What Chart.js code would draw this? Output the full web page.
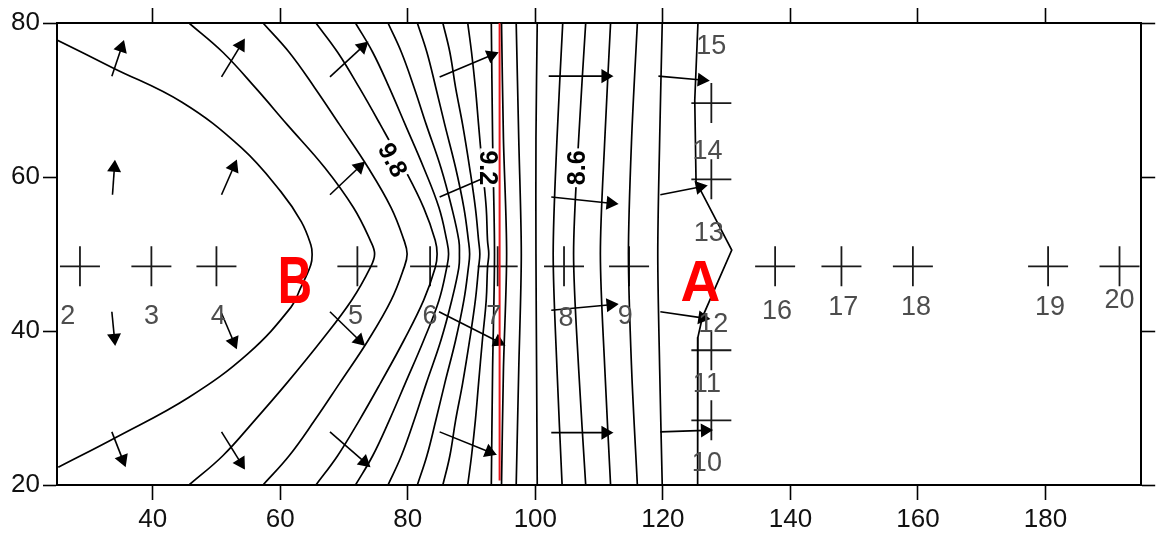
<!DOCTYPE html>
<html>
<head>
<meta charset="utf-8">
<script src="https://cdn.jsdelivr.net/npm/chart.js@4.4.1/dist/chart.umd.min.js"></script>
<style>
    html, body { margin: 0; padding: 0; background: #fff; }
    canvas { display: block; }
</style>
</head>
<body>
<canvas id="grafico" width="1163" height="539"></canvas>
<script>
const xTicks = [40, 60, 80, 100, 120, 140, 160, 180];
const yTicks = [20, 40, 60, 80];

// curved contours left of the red line, all read at the same y levels
const curveY = [80, 76.2, 71.6, 66.8, 61.2, 56.0, 51.8, 50, 48.2, 44.0, 38.8, 33.2, 28.4, 23.8, 20];
const curve2 = [45.7, 51.0, 56.1, 61.1, 67.0, 71.5, 74.1, 74.8, 74.1, 71.2, 66.5, 61.0, 56.0, 51.0, 45.7];
const curve3 = [57.3, 61.4, 65.4, 69.3, 73.8, 77.4, 79.4, 79.9, 79.4, 77.4, 73.8, 69.3, 65.4, 61.4, 57.3];
const curve4 = [65.6, 69.0, 72.4, 75.7, 79.4, 82.5, 84.3, 84.6, 84.3, 82.5, 79.4, 75.7, 72.4, 69.0, 65.6];
const curve5 = [71.8, 74.5, 77.1, 79.6, 82.5, 84.9, 86.1, 86.4, 86.1, 84.9, 82.5, 79.6, 77.1, 74.5, 71.8];
const curve6 = [76.9, 79.0, 81.0, 82.9, 85.2, 86.9, 88.0, 88.1, 88.0, 86.9, 85.2, 82.9, 81.0, 79.0, 76.9];
const curve7 = [81.5, 83.0, 84.4, 85.8, 87.5, 88.8, 89.5, 89.7, 89.5, 88.8, 87.5, 85.8, 84.4, 83.0, 81.5];
const curve8 = [85.5, 86.6, 87.5, 88.6, 89.7, 90.6, 91.1, 91.3, 91.1, 90.6, 89.7, 88.6, 87.5, 86.6, 85.5];
const curve9 = [89.4, 90.0, 90.6, 91.1, 91.7, 92.3, 92.5, 92.7, 92.5, 92.3, 91.7, 91.1, 90.6, 90.0, 89.4];

// outer contour, starts and ends on the left edge
const outerX = [25, 33.7, 44.6, 53.9, 60.1, 63.3, 64.8, 65, 64.8, 63.2, 61.7, 55, 45.7, 34.3, 25.2];
const outerY = [77.8, 74.2, 69.7, 63.8, 58.1, 54.2, 51.2, 50, 48.6, 45.6, 43.1, 37.1, 31.4, 26.2, 22.3];

// almost straight contours, read at 5 levels
const straightY = [80, 65, 50, 35, 20];
const straight10 = [93.1, 93.3, 93.6, 93.3, 93.1];
const straight11 = [94.7, 95.0, 95.5, 95.0, 94.7];
const straight12 = [97.0, 97.4, 97.8, 97.4, 97.0];
const straight13 = [100.3, 100.1, 100.1, 100.2, 100.3];
const straight14 = [104.3, 103.4, 102.8, 103.4, 104.2];
const straight15 = [107.9, 106.8, 106.0, 106.8, 107.9];
const straight16 = [111.8, 110.9, 110.2, 110.9, 111.8];
const straight17 = [116.0, 115.1, 114.6, 115.1, 116.0];
const straight18 = [119.9, 119.5, 119.2, 119.5, 119.9];

// last contour with the kink near A
const kinkX = [125.5, 125.0, 125.2, 130.8, 126.2, 125.5, 125.4, 125.5];
const kinkY = [80, 70, 59.4, 50.5, 41.8, 39.2, 30, 20];

const redLineX = 94.4;
const redLineY = [80, 20.6];

// flow arrows
const arrowTailX = [33.6, 50.8, 67.8, 85.0, 102.1, 119.3, 33.7, 50.8, 67.8, 85.0, 102.5, 119.6,
                    33.6, 50.8, 67.8, 84.9, 102.5, 119.6, 33.6, 50.8, 67.8, 85.0, 102.5, 119.6];
const arrowTailY = [73.1, 73.0, 73.0, 73.0, 73.1, 73.1, 57.7, 57.7, 57.7, 57.4, 57.4, 57.7,
                    42.5, 42.3, 42.5, 42.5, 42.7, 42.5, 26.9, 26.9, 26.9, 26.9, 26.8, 26.9];
const arrowHeadX = [35.1, 53.8, 72.9, 93.1, 111.0, 126.1, 34.0, 52.7, 72.4, 92.3, 111.8, 125.8,
                    34.0, 52.7, 72.4, 94.2, 111.8, 126.2, 35.3, 53.8, 73.2, 92.8, 111.0, 126.6];
const arrowHeadY = [76.8, 77.1, 76.9, 75.8, 73.1, 72.6, 61.2, 61.3, 61.3, 60.0, 56.6, 58.7,
                    39.1, 38.6, 38.8, 38.6, 43.4, 41.7, 23.3, 22.9, 23.0, 24.3, 26.8, 27.1];

// measuring points
const crossX = [28.6, 39.8, 50.0, 72.1, 83.5, 94.1, 104.5, 114.7, 137.6, 148.0, 159.2, 180.4, 191.6,
                127.6, 127.6, 127.6, 127.6];
const crossY = [48.4, 48.4, 48.4, 48.4, 48.4, 48.4, 48.4, 48.4, 48.4, 48.4, 48.4, 48.4, 48.4,
                69.6, 59.7, 37.5, 28.4];

const pointNames = ['2', '3', '4', '5', '6', '7', '8', '9', '16', '17', '18', '19', '20',
                    '15', '14', '13', '12', '11', '10'];
const pointNameX = [26.7, 39.8, 50.3, 71.8, 83.5, 93.5, 104.8, 114.1, 137.9, 148.3, 159.7, 180.7, 191.6,
                    127.6, 127.0, 127.2, 127.9, 126.9, 126.9];
const pointNameY = [41.9, 41.9, 41.9, 41.9, 41.9, 41.9, 41.6, 41.9, 42.5, 43.1, 43.1, 43.0, 44.0,
                    77.0, 63.3, 52.7, 40.9, 33.0, 22.8];

const contourText = ['9.8', '9.2', '8.6'];
const contourTextX = [77.6, 92.6, 106.6];
const contourTextY = [62.2, 61.2, 61.2];

const zoneText = ['B', 'A'];
const zoneTextX = [62.3, 125.9];
const zoneTextY = [46.3, 46.2];

const fuente = '"Liberation Sans Narrow", "Liberation Sans", sans-serif';

function pares(xs, ys) {
    return xs.map((v, i) => ({ x: v, y: ys[i] }));
}

function contorno(data, tension) {
    return {
        data: data,
        showLine: true,
        borderColor: '#000',
        borderWidth: 1.7,
        pointRadius: 0,
        tension: tension
    };
}

const datasets = [];
datasets.push(contorno(pares(outerX, outerY), 0.4));
[curve2, curve3, curve4, curve5, curve6, curve7, curve8, curve9].forEach(c => {
    datasets.push(contorno(pares(c, curveY), 0.4));
});
[straight10, straight11, straight12, straight13, straight14, straight15, straight16, straight17, straight18].forEach(c => {
    datasets.push(contorno(pares(c, straightY), 0.3));
});
datasets.push(contorno(pares(kinkX, kinkY), 0));

datasets.push({
    data: redLineY.map(v => ({ x: redLineX, y: v })),
    showLine: true,
    borderColor: '#e8141b',
    borderWidth: 2,
    pointRadius: 0
});

// arrow = segment + triangle turned along the segment
arrowTailX.forEach((tx, i) => {
    datasets.push({
        data: [{ x: tx, y: arrowTailY[i] }, { x: arrowHeadX[i], y: arrowHeadY[i] }],
        showLine: true,
        borderColor: '#000',
        backgroundColor: '#000',
        borderWidth: 1.6,
        pointStyle: 'triangle',
        pointRadius: ctx => ctx.dataIndex === 1 ? 6.5 : 0,
        pointRotation: ctx => {
            const sx = ctx.chart.scales.x;
            const sy = ctx.chart.scales.y;
            const dx = sx.getPixelForValue(arrowHeadX[i]) - sx.getPixelForValue(tx);
            const dy = sy.getPixelForValue(arrowHeadY[i]) - sy.getPixelForValue(arrowTailY[i]);
            return Math.atan2(dx, -dy) * 180 / Math.PI;
        }
    });
});

datasets.push({
    data: pares(crossX, crossY),
    showLine: false,
    pointStyle: 'cross',
    pointRadius: 20,
    borderColor: '#1a1a1a',
    borderWidth: 1.8
});

const textos = {
    id: 'textos',
    afterDatasetsDraw(chart) {
        const { ctx } = chart;
        const sx = chart.scales.x;
        const sy = chart.scales.y;
        ctx.save();
        ctx.textAlign = 'center';
        ctx.textBaseline = 'middle';

        const giro = [62, 90, -90];
        contourText.forEach((t, i) => {
            ctx.save();
            ctx.translate(sx.getPixelForValue(contourTextX[i]), sy.getPixelForValue(contourTextY[i]));
            ctx.rotate(giro[i] * Math.PI / 180);
            ctx.font = 'bold 25px ' + fuente;
            const w = ctx.measureText(t).width;
            ctx.fillStyle = '#fff';
            ctx.fillRect(-w / 2 - 2, -8, w + 4, 16);
            ctx.fillStyle = '#000';
            ctx.fillText(t, 0, 1);
            ctx.restore();
        });

        ctx.font = '27px ' + fuente;
        ctx.fillStyle = '#4d4d4d';
        pointNames.forEach((t, i) => {
            ctx.fillText(t, sx.getPixelForValue(pointNameX[i]), sy.getPixelForValue(pointNameY[i]));
        });

        // B is drawn tall and narrow, A wider
        const tam = [66, 58];
        const ancho = [0.72, 0.95];
        ctx.fillStyle = '#ff0000';
        zoneText.forEach((t, i) => {
            ctx.save();
            ctx.translate(sx.getPixelForValue(zoneTextX[i]), sy.getPixelForValue(zoneTextY[i]) + 2);
            ctx.scale(ancho[i], 1);
            ctx.font = 'bold ' + tam[i] + 'px ' + fuente;
            ctx.fillText(t, 0, 0);
            ctx.restore();
        });
        ctx.restore();
    }
};

function ejeX(posicion, alto, conTexto) {
    return {
        type: 'linear',
        position: posicion,
        min: 25,
        max: 195,
        afterBuildTicks: s => { s.ticks = xTicks.map(v => ({ value: v })); },
        afterFit: s => { s.height = alto; },
        grid: { drawOnChartArea: false, drawTicks: true, tickLength: 15, tickColor: '#000', tickWidth: 1.6 },
        border: { color: '#000', width: 2 },
        ticks: { display: conTexto, color: '#111', padding: 4, maxRotation: 0, autoSkip: false,
                 font: { family: fuente, size: 26 } }
    };
}

function ejeY(posicion, ancho, conTexto) {
    return {
        type: 'linear',
        position: posicion,
        min: 20,
        max: 80,
        afterBuildTicks: s => { s.ticks = yTicks.map(v => ({ value: v })); },
        afterFit: s => { s.width = ancho; },
        grid: { drawOnChartArea: false, drawTicks: true, tickLength: 14, tickColor: '#000', tickWidth: 1.6 },
        border: { color: '#000', width: 2 },
        ticks: { display: conTexto, color: '#111', padding: 3, autoSkip: false,
                 font: { family: fuente, size: 26 } }
    };
}

new Chart(document.getElementById('grafico'), {
    type: 'scatter',
    data: { datasets: datasets },
    options: {
        responsive: false,
        animation: false,
        devicePixelRatio: 1,
        events: [],
        layout: { padding: 0 },
        plugins: { legend: { display: false }, tooltip: { enabled: false } },
        scales: {
            x: ejeX('bottom', 54, true),
            xArriba: ejeX('top', 23, false),
            y: ejeY('left', 57, true),
            yDerecha: ejeY('right', 13, false)
        }
    },
    plugins: [textos]
});
</script>
</body>
</html>
